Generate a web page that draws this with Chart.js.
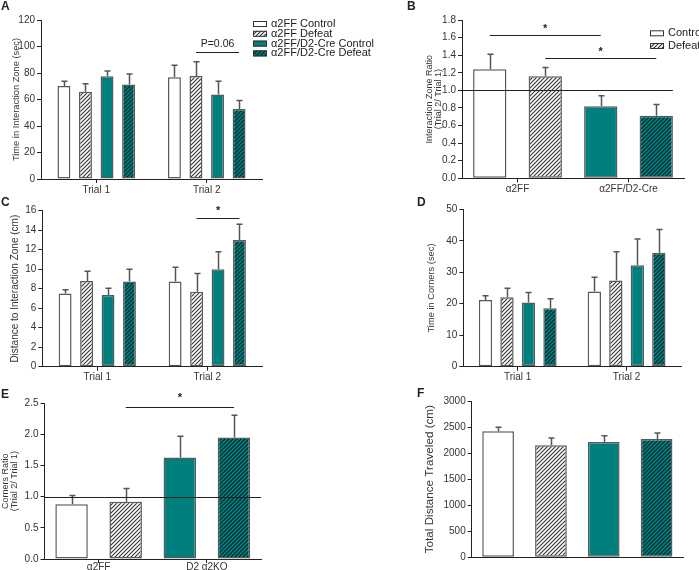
<!DOCTYPE html>
<html>
<head>
<meta charset="utf-8">
<title>Social interaction panels</title>
<script src="https://cdn.jsdelivr.net/npm/chart.js@4.4.1/dist/chart.umd.min.js"></script>
<style>
  body { margin: 0; background: #fff; }
  #figure { position: relative; width: 699px; height: 570px; overflow: hidden; font-family: 'Liberation Sans', Arial, sans-serif; }
  #figure canvas { position: absolute; }
  .letter { position: absolute; font-weight: bold; font-size: 12px; line-height: 12px; color: #222; }
</style>
</head>
<body>
<div id="figure">
  <canvas id="panel-a" width="380" height="196" style="left:0;top:0"></canvas>
  <canvas id="panel-b" width="349" height="196" style="left:350px;top:0"></canvas>
  <canvas id="panel-c" width="350" height="188" style="left:0;top:196px"></canvas>
  <canvas id="panel-d" width="349" height="188" style="left:350px;top:196px"></canvas>
  <canvas id="panel-e" width="350" height="186" style="left:0;top:384px"></canvas>
  <canvas id="panel-f" width="349" height="186" style="left:350px;top:384px"></canvas>
  <div class="letter" style="left:1px;top:0">A</div>
  <div class="letter" style="left:407px;top:0">B</div>
  <div class="letter" style="left:1px;top:196px">C</div>
  <div class="letter" style="left:417px;top:196px">D</div>
  <div class="letter" style="left:1px;top:388px">E</div>
  <div class="letter" style="left:417px;top:387px">F</div>
</div>
<script>
const trials = ['Trial 1', 'Trial 2'];
const groupNames = ['α2FF Control', 'α2FF Defeat', 'α2FF/D2-Cre Control', 'α2FF/D2-Cre Defeat'];
const conditionNames = ['Control', 'Defeat'];
const genotypesB = ['α2FF', 'α2FF/D2-Cre'];
const genotypesE = ['α2FF', 'D2 α2KO'];

// A - time in interaction zone (sec), one row per group: [trial 1, trial 2]
const zoneTime = [[70.1, 76.7], [65.8, 77.7], [77.5, 63.8], [71.4, 52.9]];
const zoneTimeSem = [[3.6, 9.1], [6.1, 10.7], [4.0, 9.9], [7.8, 6.3]];
const zoneTimeTicks = [0, 20, 40, 60, 80, 100, 120];

// B - interaction zone ratio, one row per condition: [α2FF, α2FF/D2-Cre]
const zoneRatio = [[1.24, 0.82], [1.16, 0.71]];
const zoneRatioSem = [[0.17, 0.12], [0.10, 0.13]];
const zoneRatioTicks = [0, 0.2, 0.4, 0.6, 0.8, 1.0, 1.2, 1.4, 1.6, 1.8];

// C - distance to interaction zone (cm)
const zoneDistance = [[7.5, 8.75], [8.8, 7.7], [7.35, 10.0], [8.75, 13.0]];
const zoneDistanceSem = [[0.4, 1.45], [1.0, 1.85], [0.7, 1.8], [1.25, 1.6]];
const zoneDistanceTicks = [0, 2, 4, 6, 8, 10, 12, 14, 16];

// D - time in corners (sec)
const cornerTime = [[21.2, 23.9], [22.1, 27.4], [20.4, 32.2], [18.6, 36.2]];
const cornerTimeSem = [[1.3, 4.5], [2.8, 9.1], [3.2, 8.4], [3.0, 7.4]];
const cornerTimeTicks = [0, 10, 20, 30, 40, 50];

// E - corners ratio
const cornerRatio = [[0.88, 1.63], [0.92, 1.95]];
const cornerRatioSem = [[0.14, 0.34], [0.21, 0.36]];
const cornerRatioTicks = [0, 0.5, 1.0, 1.5, 2.0, 2.5];

// F - total distance traveled (cm), one value per group
const totalDistance = [2418, 2150, 2214, 2271];
const totalDistanceSem = [77, 140, 121, 115];
const totalDistanceTicks = [0, 500, 1000, 1500, 2000, 2500, 3000];

const FONT = "'Liberation Sans', Arial, sans-serif";
Chart.defaults.font.family = FONT;
Chart.defaults.color = '#333';

const TEAL = '#007f7f';

function hatch(bg, fg) {
    const size = 4;
    const c = document.createElement('canvas');
    c.width = size;
    c.height = size;
    const g = c.getContext('2d');
    g.fillStyle = bg;
    g.fillRect(0, 0, size, size);
    g.strokeStyle = fg;
    g.lineWidth = 1.1;
    g.beginPath();
    g.moveTo(-1, size + 1);
    g.lineTo(size + 1, -1);
    g.moveTo(-1, 1);
    g.lineTo(1, -1);
    g.moveTo(size - 1, size + 1);
    g.lineTo(size + 1, size - 1);
    g.stroke();
    return g.createPattern(c, 'repeat');
}

// white, white hatched, teal, teal hatched
const fills = ['#ffffff', hatch('#ffffff', '#333333'), TEAL, hatch(TEAL, '#0a2222')];
const edge = '#5a5a5a';

const errorBars = {
    id: 'errorBars',
    afterDatasetsDraw(chart) {
        const ctx = chart.ctx;
        const y = chart.scales.y;
        ctx.save();
        ctx.strokeStyle = '#555';
        ctx.lineWidth = 1.5;
        chart.data.datasets.forEach((ds, i) => {
            chart.getDatasetMeta(i).data.forEach((bar, j) => {
                const top = y.getPixelForValue(ds.data[j] + ds.sem[j]);
                const x = Math.round(bar.x) + 0.5;
                ctx.beginPath();
                ctx.moveTo(x, bar.y);
                ctx.lineTo(x, top);
                ctx.moveTo(x - 3, top);
                ctx.lineTo(x + 3, top);
                ctx.stroke();
            });
        });
        ctx.restore();
    },
};

const marks = {
    id: 'marks',
    afterDraw(chart, args, opts) {
        const {ctx, chartArea} = chart;
        const y = chart.scales.y;
        ctx.save();
        ctx.strokeStyle = '#222';
        ctx.fillStyle = '#222';
        ctx.lineWidth = 1;

        if (opts.refLine) {
            const py = Math.round(y.getPixelForValue(opts.refLine.value)) + 0.5;
            let right = chartArea.right;
            if (opts.refLine.toLastBar) {
                const meta = chart.getDatasetMeta(chart.data.datasets.length - 1);
                const bar = meta.data[meta.data.length - 1];
                right = bar.x + bar.width / 2;
            }
            ctx.beginPath();
            ctx.moveTo(chartArea.left, py);
            ctx.lineTo(right, py);
            ctx.stroke();
        }

        (opts.brackets || []).forEach(b => {
            const from = chart.getDatasetMeta(b.from[0]).data[b.from[1]];
            const to = chart.getDatasetMeta(b.to[0]).data[b.to[1]];
            const py = Math.round(y.getPixelForValue(b.value)) + 0.5;
            ctx.beginPath();
            ctx.moveTo(from.x, py);
            ctx.lineTo(to.x, py);
            ctx.stroke();
            ctx.font = b.font || `10px ${FONT}`;
            ctx.textAlign = 'center';
            ctx.textBaseline = 'middle';
            ctx.fillText(b.text, (from.x + to.x) / 2, y.getPixelForValue(b.textValue));
        });

        if (opts.legend) {
            const lg = opts.legend;
            ctx.font = `11px ${FONT}`;
            ctx.textAlign = 'left';
            ctx.textBaseline = 'middle';
            lg.items.forEach((item, k) => {
                const cy = lg.y + k * lg.step;
                ctx.fillStyle = fills[item.fill];
                ctx.fillRect(lg.x, cy - 3, 14, 6);
                ctx.strokeStyle = '#333';
                ctx.strokeRect(lg.x + 0.5, cy - 2.5, 13, 5);
                ctx.fillStyle = '#222';
                ctx.fillText(item.text, lg.x + 18, cy);
            });
        }
        ctx.restore();
    },
};

function buildPanel(id, cfg) {
    const canvas = document.getElementById(id);
    const titleSize = cfg.titleSize || 10;
    const titleLh = cfg.titleLineHeight || 1.2;
    const scaleLeft = cfg.titleX - titleSize * titleLh / 2;
    const yWidth = cfg.plot.left - scaleLeft;
    const xHeight = cfg.xHeight || 16;
    const ticks = cfg.ticks;
    const decimals = cfg.decimals || 0;

    return new Chart(canvas, {
        type: 'bar',
        data: {
            labels: cfg.labels,
            datasets: cfg.datasets.map(ds => Object.assign({
                borderColor: edge,
                borderWidth: 1.5,
                borderSkipped: false,
                categoryPercentage: cfg.cp,
                barPercentage: cfg.bp,
            }, ds)),
        },
        options: {
            responsive: false,
            animation: false,
            events: [],
            layout: {
                padding: {
                    left: scaleLeft,
                    top: cfg.plot.top,
                    right: canvas.width - cfg.plot.right,
                    bottom: canvas.height - cfg.plot.bottom - xHeight,
                },
            },
            plugins: {
                legend: { display: false },
                tooltip: { enabled: false },
                marks: cfg.marks || {},
            },
            scales: {
                x: {
                    afterFit: scale => { scale.height = xHeight; },
                    border: { display: true, color: '#222', width: 1 },
                    grid: {
                        display: cfg.showX !== false,
                        drawOnChartArea: false,
                        offset: false,
                        tickLength: 4,
                        color: '#222',
                    },
                    ticks: {
                        display: cfg.showX !== false,
                        padding: cfg.xPad !== undefined ? cfg.xPad : 1,
                        color: '#333',
                        font: { size: 10 },
                    },
                },
                y: {
                    min: ticks[0],
                    max: ticks[ticks.length - 1],
                    afterFit: scale => { scale.width = yWidth; },
                    afterBuildTicks: scale => { scale.ticks = ticks.map(v => ({ value: v })); },
                    border: { display: true, color: '#222', width: 1 },
                    grid: {
                        drawOnChartArea: false,
                        tickLength: 4,
                        color: '#222',
                    },
                    ticks: {
                        padding: 2,
                        color: '#333',
                        font: { size: 10 },
                        callback: v => Number(v).toFixed(decimals),
                    },
                    title: {
                        display: true,
                        text: cfg.title,
                        color: '#333',
                        padding: 0,
                        font: { size: titleSize, lineHeight: titleLh },
                    },
                },
            },
        },
        plugins: [errorBars, marks],
    });
}

function groupSets(means, sems) {
    return means.map((m, i) => ({
        label: groupNames[i],
        data: m,
        sem: sems[i],
        backgroundColor: fills[i],
    }));
}

function conditionSets(means, sems) {
    return means.map((m, i) => ({
        label: conditionNames[i],
        data: m,
        sem: sems[i],
        backgroundColor: [fills[i], fills[i + 2]],
    }));
}

buildPanel('panel-a', {
    labels: trials,
    datasets: groupSets(zoneTime, zoneTimeSem),
    ticks: zoneTimeTicks,
    title: 'Time in Interaction Zone (sec)',
    titleSize: 9.3,
    titleX: 16.7,
    plot: { left: 41, top: 20, right: 262, bottom: 179 },
    cp: 0.78,
    bp: 0.6,
    marks: {
        brackets: [{ from: [1, 1], to: [3, 1], value: 96, text: 'P=0.06', textValue: 101.8, font: `10.5px ${FONT}` }],
        legend: {
            x: 253, y: 24, step: 9.8,
            items: groupNames.map((name, i) => ({ fill: i, text: name })),
        },
    },
});

buildPanel('panel-b', {
    labels: genotypesB,
    datasets: conditionSets(zoneRatio, zoneRatioSem),
    ticks: zoneRatioTicks,
    decimals: 1,
    title: ['Interaction Zone Ratio', '(Trial 2/ Trial 1)'],
    titleSize: 9,
    titleLineHeight: 1.0,
    titleX: 79.5,
    plot: { left: 112, top: 20, right: 334, bottom: 178.3 },
    cp: 1.0,
    bp: 0.6,
    marks: {
        refLine: { value: 1.0, toLastBar: true },
        brackets: [
            { from: [0, 0], to: [0, 1], value: 1.626, text: '*', textValue: 1.70, font: `bold 11px ${FONT}` },
            { from: [1, 0], to: [1, 1], value: 1.364, text: '*', textValue: 1.44, font: `bold 11px ${FONT}` },
        ],
        legend: {
            x: 300, y: 33.3, step: 12.7,
            items: conditionNames.map((name, i) => ({ fill: i, text: name })),
        },
    },
});

buildPanel('panel-c', {
    labels: trials,
    datasets: groupSets(zoneDistance, zoneDistanceSem),
    ticks: zoneDistanceTicks,
    title: 'Distance to Interaction Zone (cm)',
    titleX: 15,
    plot: { left: 42.3, top: 14.7, right: 262.3, bottom: 170.7 },
    cp: 0.78,
    bp: 0.6,
    marks: {
        brackets: [{ from: [1, 1], to: [3, 1], value: 15.3, text: '*', textValue: 16.0, font: `bold 11px ${FONT}` }],
    },
});

buildPanel('panel-d', {
    labels: trials,
    datasets: groupSets(cornerTime, cornerTimeSem),
    ticks: cornerTimeTicks,
    title: 'Time in Corners (sec)',
    titleSize: 9.3,
    titleX: 81.7,
    plot: { left: 113.3, top: 13.3, right: 331, bottom: 170.7 },
    cp: 0.79,
    bp: 0.62,
});

buildPanel('panel-e', {
    labels: genotypesE,
    datasets: conditionSets(cornerRatio, cornerRatioSem),
    ticks: cornerRatioTicks,
    decimals: 1,
    title: ['Corners Ratio', '(Trial 2/ Trial 1)'],
    titleSize: 9,
    titleLineHeight: 1.0,
    titleX: 5.5,
    plot: { left: 44.5, top: 19.3, right: 261, bottom: 175 },
    xHeight: 11,
    xPad: -2,
    cp: 1.0,
    bp: 0.6,
    marks: {
        refLine: { value: 1.0 },
        brackets: [{ from: [1, 0], to: [1, 1], value: 2.44, text: '*', textValue: 2.58, font: `bold 11px ${FONT}` }],
    },
});

buildPanel('panel-f', {
    labels: groupNames,
    datasets: [{
        label: 'Total distance',
        data: totalDistance,
        sem: totalDistanceSem,
        backgroundColor: fills,
    }],
    ticks: totalDistanceTicks,
    title: 'Total Distance Traveled (cm)',
    titleSize: 11.7,
    titleX: 80,
    plot: { left: 121.7, top: 17, right: 333, bottom: 173.3 },
    xHeight: 4,
    showX: false,
    cp: 1.0,
    bp: 0.6,
});
</script>
</body>
</html>
